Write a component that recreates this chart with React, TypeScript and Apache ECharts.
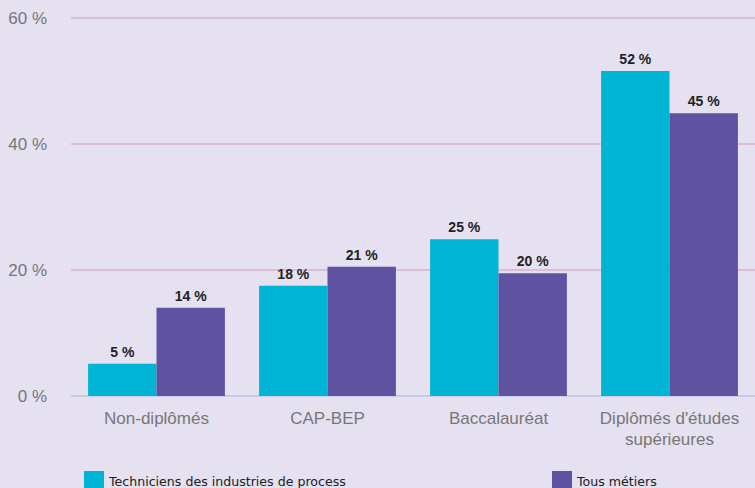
import React, { useEffect, useRef } from "react";
import * as echarts from "echarts";

const categories = ["Non-diplômés", "CAP-BEP", "Baccalauréat", "Diplômés d'études\nsupérieures"];
const seriesNames = ["Techniciens des industries de process", "Tous métiers"];
const techniciens = [5.1, 17.5, 24.9, 51.6];
const tousMetiers = [14.0, 20.5, 19.5, 44.9];
const yTicks = [0, 20, 40, 60];

export default function App() {
  const ref = useRef<HTMLDivElement>(null);
  useEffect(() => {
    const chart = echarts.init(ref.current!, undefined, { renderer: "svg" });
    const labelCfg = {
      show: true,
      position: "top",
      distance: 5,
      color: "#222",
      fontWeight: "bold",
      fontSize: 14,
      fontFamily: "Liberation Sans, Arial, sans-serif",
      formatter: (p: any) => Math.round(p.value) + " %",
    };
    const legendText = { fontFamily: "DejaVu Sans", fontSize: 12.6, color: "#222" };
    chart.setOption({
      animation: false,
      backgroundColor: "#e5e1f0",
      grid: { left: 71, right: 0, top: 18, bottom: 92, containLabel: false },
      legend: [
        {
          data: [seriesNames[0]],
          left: 84,
          top: 471,
          itemWidth: 20,
          itemHeight: 20,
          icon: "rect",
          textStyle: legendText,
          padding: 0,
        },
        {
          data: [seriesNames[1]],
          left: 552,
          top: 471,
          itemWidth: 20,
          itemHeight: 20,
          icon: "rect",
          textStyle: legendText,
          padding: 0,
        },
      ],
      xAxis: {
        type: "category",
        data: categories,
        axisTick: { show: false },
        axisLine: { show: true, lineStyle: { color: "#c9cde8", width: 1 } },
        axisLabel: {
          color: "#777",
          fontSize: 17,
          fontFamily: "Liberation Sans, Arial, sans-serif",
          margin: 12,
          lineHeight: 21,
          interval: 0,
        },
      },
      yAxis: {
        type: "value",
        min: yTicks[0],
        max: yTicks[yTicks.length - 1],
        interval: 20,
        axisLine: { show: false },
        axisTick: { show: false },
        splitLine: { lineStyle: { color: "#dcbcd8", width: 2 } },
        axisLabel: {
          color: "#777",
          fontSize: 17,
          fontFamily: "Liberation Sans, Arial, sans-serif",
          margin: 24,
          formatter: (v: number) => v + " %",
        },
      },
      series: [
        {
          name: seriesNames[0],
          type: "bar",
          data: techniciens,
          barWidth: "40%",
          barGap: "0%",
          itemStyle: { color: "#00b4d6" },
          label: labelCfg,
        },
        {
          name: seriesNames[1],
          type: "bar",
          data: tousMetiers,
          barWidth: "40%",
          barGap: "0%",
          itemStyle: { color: "#5f52a0" },
          label: labelCfg,
        },
      ],
    });
    return () => chart.dispose();
  }, []);
  return <div ref={ref} style={{ width: 755, height: 488, position: "absolute", left: 0, top: 0 }} />;
}
